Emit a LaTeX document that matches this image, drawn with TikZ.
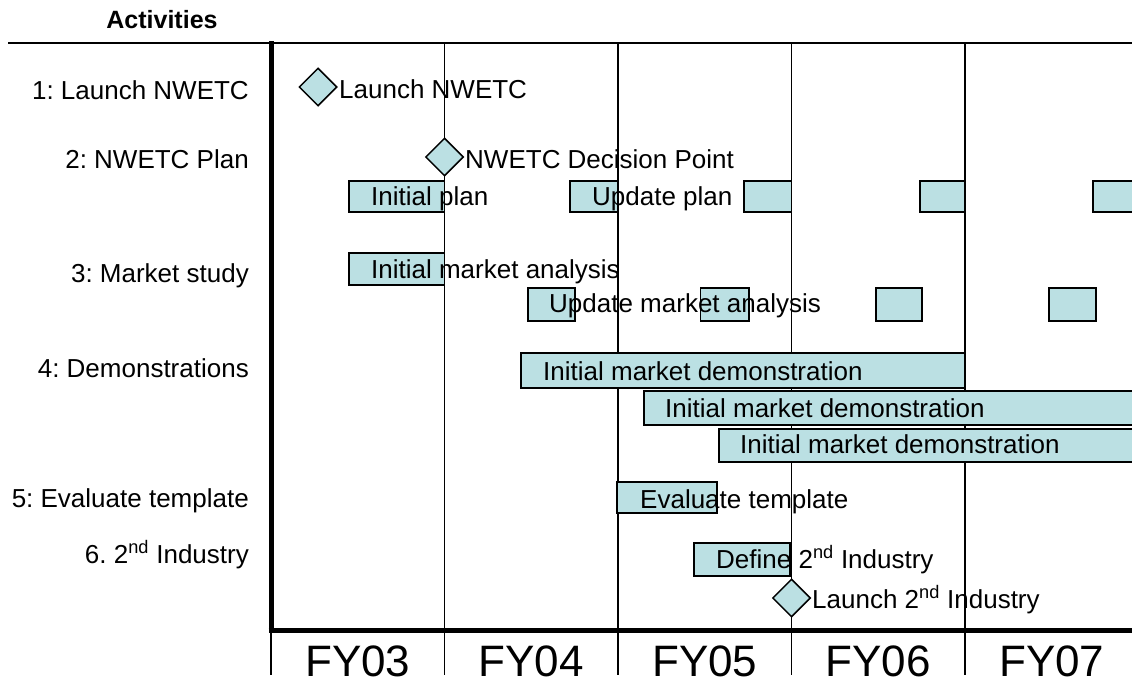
\documentclass[tikz,border=0pt]{standalone}
\usepackage{fontspec}
\setmainfont{Liberation Sans}
\usetikzlibrary{shapes.geometric}
\definecolor{barfill}{HTML}{BBE0E3}
\frenchspacing
\begin{document}
\begin{tikzpicture}[x=1pt,y=-1pt,
  lbl/.style={font=\fontsize{26}{30}\selectfont, inner sep=0, anchor=base east},
  txt/.style={font=\fontsize{26}{30}\selectfont, inner sep=0, anchor=base west},
  barbox/.style={draw=black, fill=barfill, line width=1.5pt},
  ms/.style={shape=diamond, draw=black, fill=barfill, line width=1.5pt,
             minimum width=38pt, minimum height=38pt, inner sep=0},
  yr/.style={font=\fontsize{44}{50}\selectfont, inner sep=0, anchor=base},
  gridline/.style={line width=1.4pt}]
\clip (0,0) rectangle (1132,683);

% heading
\node[font=\fontsize{25}{28}\selectfont\bfseries, inner sep=0, anchor=base] (head) at (162,28) {Activities};

% frame and year separators
\draw[line width=2pt] (8,43) -- (1132,43);
\foreach \x in {444.5,618,791.5,965} \draw[gridline] (\x,43) -- (\x,675);
\draw[gridline] (271,630) -- (271,675);
\draw[line width=5pt] (271,41) -- (271,632);
\draw[line width=5pt] (268.5,630) -- (1132,630);

% activity bars
\draw[barbox] (349,181) rectangle (444.5,212);
\draw[barbox] (570,181) rectangle (618,212);
\draw[barbox] (744,181) rectangle (791.5,212);
\draw[barbox] (920,181) rectangle (965,212);
\draw[barbox] (1093,181) rectangle (1140,212);

\draw[barbox] (349,253) rectangle (444.5,285);
\draw[barbox] (528,288) rectangle (575,321);
\draw[barbox] (700.5,288) rectangle (749,321);
\draw[barbox] (876,288) rectangle (922,321);
\draw[barbox] (1049,288) rectangle (1096,321);

\draw[barbox] (521,353) rectangle (965,388);
\draw[barbox] (644,391) rectangle (1140,425);
\draw[barbox] (719,429) rectangle (1140,462);

\draw[barbox] (617,482) rectangle (717,513);
\draw[barbox] (694,543) rectangle (790,576);

% milestones
\node[ms] (m1) at (318,87) {};
\node[ms] (m2) at (444.5,157) {};
\node[ms] (m3) at (791.5,598) {};

% bar and milestone texts
\node[txt] (t1) at (339,98) {Launch NWETC};
\node[txt] (t2) at (465,168) {NWETC Decision Point};
\node[txt] (t3) at (371,205) {Initial plan};
\node[txt] (t4) at (592,205) {Update plan};
\node[txt] (t5) at (371,278) {Initial market analysis};
\node[txt] (t6) at (549,312) {Update market analysis};
\node[txt] (t7) at (543,380) {Initial market demonstration};
\node[txt] (t8) at (665,417) {Initial market demonstration};
\node[txt] (t9) at (740,453) {Initial market demonstration};
\node[txt] (t10) at (640,508) {Evaluate template};
\node[txt] (t11) at (716,568) {Define 2\textsuperscript{nd} Industry};
\node[txt] (t12) at (812,608) {Launch 2\textsuperscript{nd} Industry};

% activity labels
\node[lbl] (a1) at (249,99) {1: Launch NWETC};
\node[lbl] (a2) at (249,168) {2: NWETC Plan};
\node[lbl] (a3) at (249,282) {3: Market study};
\node[lbl] (a4) at (249,377) {4: Demonstrations};
\node[lbl] (a5) at (249,507) {5: Evaluate template};
\node[lbl] (a6) at (249,563) {6. 2\textsuperscript{nd} Industry};

% fiscal years
\node[yr] (y3) at (357.75,676) {FY03};
\node[yr] (y4) at (531.25,676) {FY04};
\node[yr] (y5) at (704.75,676) {FY05};
\node[yr] (y6) at (878.25,676) {FY06};
\node[yr] (y7) at (1051.75,676) {FY07};
\end{tikzpicture}
\end{document}
